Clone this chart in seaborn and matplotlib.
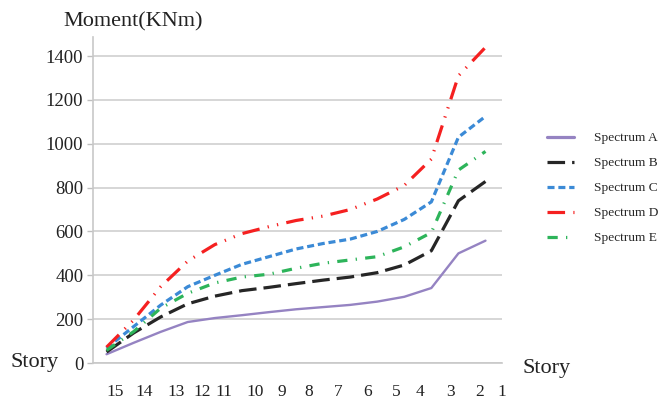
# Moment per etage for fem spektre
import numpy as np
import pandas as pd
import matplotlib
matplotlib.use("Agg")
import matplotlib.pyplot as plt
import seaborn as sns

# Data (etage 15 -> 1)
stories = ["15", "14", "13", "12", "11", "10", "9", "8", "7", "6", "5", "4", "3", "2", "1"]
spectrum_a = [40, 92, 142, 187, 205, 218, 232, 245, 255, 265, 280, 302, 342, 500, 558]
spectrum_b = [50, 137, 210, 270, 305, 330, 345, 362, 378, 392, 412, 447, 512, 740, 828]
spectrum_c = [68, 166, 264, 348, 400, 450, 485, 520, 545, 565, 600, 655, 735, 1030, 1125]
spectrum_d = [72, 196, 348, 465, 540, 590, 622, 650, 670, 700, 748, 810, 930, 1310, 1440]
spectrum_e = [58, 143, 250, 318, 365, 392, 405, 432, 455, 470, 485, 530, 595, 880, 965]
series_names = ["Spectrum A", "Spectrum B", "Spectrum C", "Spectrum D", "Spectrum E"]
y_ticks = [0, 200, 400, 600, 800, 1000, 1200, 1400]

# Placering af etage-etiketterne (som i originalen, lidt skæve)
label_pos = [0.31, 1.41, 2.58, 3.53, 4.34, 5.48, 6.47, 7.46, 8.56, 9.66, 10.69, 11.57, 12.70, 13.77, 14.61]

rows = []
for name, vals in zip(series_names, [spectrum_a, spectrum_b, spectrum_c, spectrum_d, spectrum_e]):
    for i, v in enumerate(vals):
        rows.append({"pos": i, "Moment": v, "Serie": name})
df = pd.DataFrame(rows)

sns.set_style("white")
plt.rcParams["font.family"] = ["Liberation Serif", "DejaVu Serif"]

palette = {
    "Spectrum A": "#9583c2",
    "Spectrum B": "#262626",
    "Spectrum C": "#3b8ad6",
    "Spectrum D": "#f52020",
    "Spectrum E": "#2db45a",
}
dashes = {
    "Spectrum A": "",
    "Spectrum B": (5.5, 2.2),
    "Spectrum C": (2.2, 1.2),
    "Spectrum D": (5.5, 2.6, 0.4, 2.6, 0.4, 2.6),
    "Spectrum E": (3.2, 2.6, 0.4, 2.6),
}

fig = plt.figure(figsize=(6.68, 4.04), dpi=100)
ax = fig.add_axes([93 / 668, 1 - 363 / 404, (502 - 93) / 668, (363 - 37) / 404])

sns.lineplot(data=df, x="pos", y="Moment", hue="Serie", style="Serie",
             palette=palette, dashes=dashes, linewidth=2.3, ax=ax)
ax.get_lines()[0].set_linewidth(1.7)  # Spectrum A er tyndere

ax.set_xlim(-0.5, 14.5)
ax.set_ylim(0, 1487)
ax.set_yticks(y_ticks)
ax.set_yticklabels([str(t) for t in y_ticks], fontsize=13.5, color="#222222")
ax.set_xticks(label_pos)
ax.set_xticklabels(stories, fontsize=12.5, color="#222222")
ax.set_xticks(np.arange(-0.5, 15, 1), minor=True)
ax.tick_params(axis="x", which="major", length=0, pad=15)
ax.tick_params(axis="x", which="minor", length=4, width=1, color="#bfbfbf", direction="out")
ax.tick_params(axis="y", length=4, width=1, color="#bfbfbf", pad=3, left=True)
ax.set_xlabel("")
ax.set_ylabel("")

ax.grid(axis="y", color="#d0d0d0", linewidth=1.2)
ax.grid(axis="x", visible=False)
ax.set_axisbelow(True)
for side in ["top", "right"]:
    ax.spines[side].set_visible(False)
for side in ["left", "bottom"]:
    ax.spines[side].set_color("#c8c8c8")
    ax.spines[side].set_linewidth(1.2)

# Tekster
fig.text(63 / 668, 1 - 22 / 404, "Moment(KNm)", fontsize=16, va="center", ha="left", color="#222222")
fig.text(10 / 668, 1 - 363 / 404, "Story", fontsize=16, va="center", ha="left", color="#222222")
fig.text(523 / 668, 1 - 368 / 404, "Story", fontsize=16, va="center", ha="left", color="#222222")

# Legende til højre
ax.get_legend().remove()
handles, labels = ax.get_legend_handles_labels()
fig.legend(handles, labels, loc="center left", bbox_to_anchor=(547 / 668, 1 - 188 / 404),
           frameon=False, fontsize=9.6, handlelength=2.0, handletextpad=1.5,
           labelspacing=0.95, borderpad=0, borderaxespad=0)

fig.savefig("out.png", dpi=100)
